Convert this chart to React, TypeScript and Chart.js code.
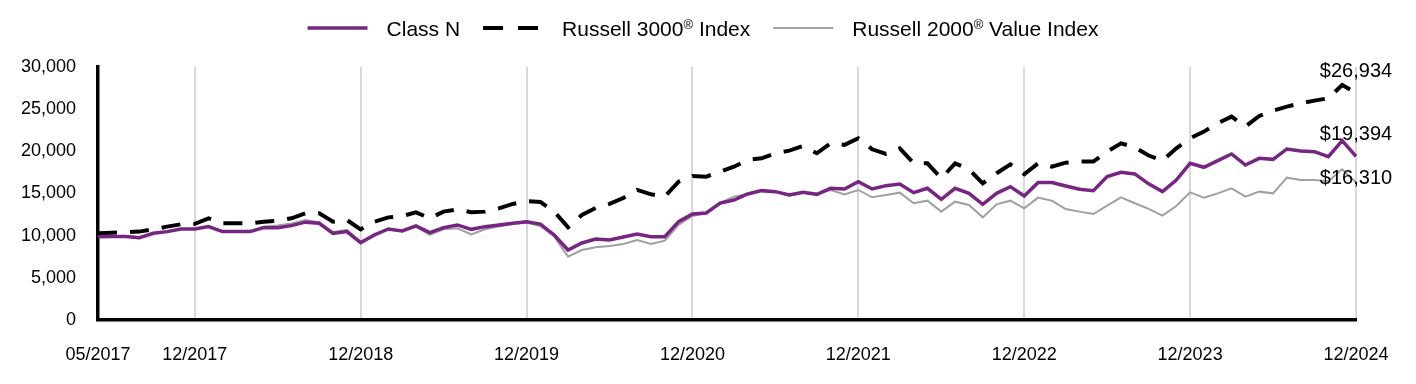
import React, { useEffect, useRef } from 'react';
import { Chart, registerables } from 'chart.js';

Chart.register(...registerables);

const startYear = 2017;
const startMonth = 5;
const monthCount = 92;
const categories: string[] = Array.from({ length: monthCount }, (_, i) => {
  const m = ((startMonth - 1 + i) % 12) + 1;
  const y = startYear + Math.floor((startMonth - 1 + i) / 12);
  return `${String(m).padStart(2, '0')}/${y}`;
});

const tickLabels = ['05/2017', '12/2017', '12/2018', '12/2019', '12/2020', '12/2021', '12/2022', '12/2023', '12/2024'];

const classN = [
  9880, 9900, 9900, 9760, 10280, 10480, 10790, 10790, 11070, 10480,
  10480, 10480, 10950, 10950, 11190, 11600, 11470, 10280, 10480, 9170,
  10080, 10790, 10560, 11150, 10360, 10950, 11270, 10750, 11070, 11270,
  11470, 11660, 11380, 10080, 8300, 9130, 9600, 9490, 9840, 10200,
  9880, 9880, 11660, 12570, 12690, 13860, 14230, 14940, 15340, 15220,
  14830, 15140, 14900, 15620, 15540, 16400, 15540, 15930, 16130, 15100,
  15620, 14310, 15620, 15020, 13720, 15020, 15810, 14710, 16290, 16290,
  15890, 15500, 15340, 17000, 17510, 17320, 16150, 15220, 16600, 18580,
  18110, 18900, 19690, 18380, 19170, 19050, 20280, 20040, 19960, 19370,
  21270, 19394,
];

const russell3000 = [
  10280, 10350, 10420, 10480, 10750, 11070, 11350, 11400, 12060, 11470,
  11470, 11470, 11660, 11780, 12060, 12650, 12650, 11660, 11860, 10750,
  11660, 12170, 12330, 12770, 12060, 12850, 13120, 12770, 12850, 13240,
  13760, 14110, 14000, 12850, 11000, 12450, 13280, 13760, 14470, 15420,
  14900, 14630, 16400, 17080, 17000, 17590, 18180, 18980, 19170, 19770,
  20080, 20640, 19770, 20950, 20760, 21550, 20240, 19690, 20360, 18580,
  18580, 16800, 18580, 17870, 16210, 17400, 18460, 17280, 18580, 18180,
  18660, 18780, 18780, 19960, 20950, 20480, 19500, 18900, 20360, 21550,
  22340, 23330, 24120, 22930, 24190, 24820, 25300, 25700, 26010, 26290,
  27870, 26934,
];

const russell2000Value = [
  9900, 9950, 9950, 9800, 10300, 10500, 10800, 10800, 11050, 10500,
  10500, 10550, 11100, 11200, 11450, 11850, 11590, 10400, 10680, 9290,
  10200, 10790, 10500, 11070, 10080, 10750, 10870, 10160, 10750, 11070,
  11390, 11550, 11150, 9900, 7510, 8300, 8620, 8780, 9010, 9490,
  9010, 9410, 11270, 12330, 12690, 13900, 14630, 14940, 15340, 15220,
  14750, 15100, 14900, 15420, 14900, 15420, 14550, 14830, 15100, 13840,
  14150, 12850, 14030, 13640, 12170, 13720, 14150, 13240, 14510, 14150,
  13160, 12850, 12570, 13560, 14550, 13840, 13180, 12370, 13520, 15140,
  14510, 15020, 15620, 14630, 15220, 15020, 16880, 16600, 16600, 16450,
  17870, 16310,
];

const FONT = '"Liberation Sans", Arial, Helvetica, sans-serif';

const legendEntries: { parts: [string, boolean][]; dash: number[] }[] = [
  { parts: [['Class N', false]], dash: [] },
  { parts: [['Russell 3000', false], ['®', true], [' Index', false]], dash: [20, 15] },
  { parts: [['Russell 2000', false], ['®', true], [' Value Index', false]], dash: [] },
];

const legendPlugin = {
  id: 'customLegend',
  afterDraw(chart: any) {
    const ctx = chart.ctx as CanvasRenderingContext2D;
    const mainFont = `21px ${FONT}`;
    const supFont = `13px ${FONT}`;
    const sampleW = 60;
    const gapText = 19;
    const itemGap = 23;
    const lineY = 20;
    const baseY = 27.5;
    const supY = 20.5;
    ctx.save();
    const widths = legendEntries.map((e) => {
      let w = 0;
      e.parts.forEach(([t, sup]) => {
        ctx.font = sup ? supFont : mainFont;
        w += ctx.measureText(t).width;
      });
      return w;
    });
    const total = legendEntries.reduce((acc, _e, i) => acc + sampleW + gapText + widths[i], 0) + itemGap * (legendEntries.length - 1);
    let x = chart.width / 2 - total / 2 - 5;
    legendEntries.forEach((e, i) => {
      const ds = chart.data.datasets[i];
      ctx.beginPath();
      ctx.strokeStyle = ds.borderColor;
      ctx.lineWidth = ds.borderWidth;
      ctx.setLineDash(e.dash);
      ctx.lineCap = 'butt';
      ctx.moveTo(x, lineY);
      ctx.lineTo(x + sampleW, lineY);
      ctx.stroke();
      ctx.setLineDash([]);
      let tx = x + sampleW + gapText;
      ctx.fillStyle = '#000';
      ctx.textAlign = 'left';
      ctx.textBaseline = 'alphabetic';
      e.parts.forEach(([t, sup]) => {
        ctx.font = sup ? supFont : mainFont;
        ctx.fillText(t, tx, sup ? supY : baseY);
        tx += ctx.measureText(t).width;
      });
      x = tx + itemGap;
    });
    ctx.restore();
  },
};

const endLabelOffsets = [-16, -16, 2];

const endLabelPlugin = {
  id: 'endLabels',
  afterDatasetsDraw(chart: any) {
    const ctx = chart.ctx as CanvasRenderingContext2D;
    const xScale = chart.scales.x;
    const yScale = chart.scales.y;
    ctx.save();
    ctx.font = `20px ${FONT}`;
    ctx.fillStyle = '#000';
    ctx.textAlign = 'center';
    ctx.textBaseline = 'alphabetic';
    const order = [1, 0, 2];
    order.forEach((dsIndex, k) => {
      const data = chart.data.datasets[dsIndex].data as number[];
      const last = data[data.length - 1];
      const px = xScale.getPixelForValue(data.length - 1);
      const py = yScale.getPixelForValue(last);
      ctx.fillText('$' + last.toLocaleString('en-US'), px, py + endLabelOffsets[k]);
    });
    ctx.restore();
  },
};

export default function App() {
  const canvasRef = useRef<HTMLCanvasElement | null>(null);

  useEffect(() => {
    if (!canvasRef.current) return;
    const chart = new Chart(canvasRef.current, {
      type: 'line',
      data: {
        labels: categories,
        datasets: [
          {
            label: 'Class N',
            data: classN,
            borderColor: '#772583',
            backgroundColor: '#772583',
            borderWidth: 3.5,
            pointRadius: 0,
            tension: 0,
          },
          {
            label: 'Russell 3000® Index',
            data: russell3000,
            borderColor: '#000000',
            backgroundColor: '#000000',
            borderWidth: 4,
            borderDash: [19, 13],
            pointRadius: 0,
            tension: 0,
          },
          {
            label: 'Russell 2000® Value Index',
            data: russell2000Value,
            borderColor: '#a0a0a0',
            backgroundColor: '#a0a0a0',
            borderWidth: 2,
            pointRadius: 0,
            tension: 0,
          },
        ],
      },
      options: {
        responsive: false,
        animation: false,
        devicePixelRatio: 1,
        layout: { padding: { top: 59, right: 52, bottom: 0, left: 0 } },
        plugins: {
          legend: { display: false },
          tooltip: { enabled: false },
        },
        scales: {
          x: {
            type: 'category',
            offset: false,
            afterFit: (s: any) => {
              s.height = 56;
              s.paddingRight = 0;
              s.paddingLeft = 0;
            },
            grid: {
              display: true,
              drawTicks: false,
              lineWidth: 2,
              color: (c: any) => {
                const i = c.index;
                if (i === 0 || i === undefined) return 'rgba(0,0,0,0)';
                return tickLabels.includes(categories[i]) ? '#d9d9d9' : 'rgba(0,0,0,0)';
              },
            },
            border: { display: true, color: '#000', width: 3.5 },
            ticks: {
              autoSkip: false,
              maxRotation: 0,
              minRotation: 0,
              padding: 24,
              color: '#000',
              font: { family: FONT, size: 18 },
              callback: (_v: any, i: number) => (tickLabels.includes(categories[i]) ? categories[i] : ''),
            },
          },
          y: {
            min: 0,
            max: 30000,
            afterFit: (s: any) => {
              s.width = 90;
            },
            grid: { display: false, drawTicks: false },
            border: { display: true, color: '#000', width: 3.5 },
            ticks: {
              stepSize: 5000,
              padding: 22,
              color: '#000',
              font: { family: FONT, size: 18 },
            },
          },
        },
      },
      plugins: [legendPlugin, endLabelPlugin],
    });
    return () => chart.destroy();
  }, []);

  return (
    <div style={{ width: 1400, height: 368 }}>
      <canvas ref={canvasRef} width={1400} height={368} style={{ display: 'block', width: 1400, height: 368 }} />
    </div>
  );
}
